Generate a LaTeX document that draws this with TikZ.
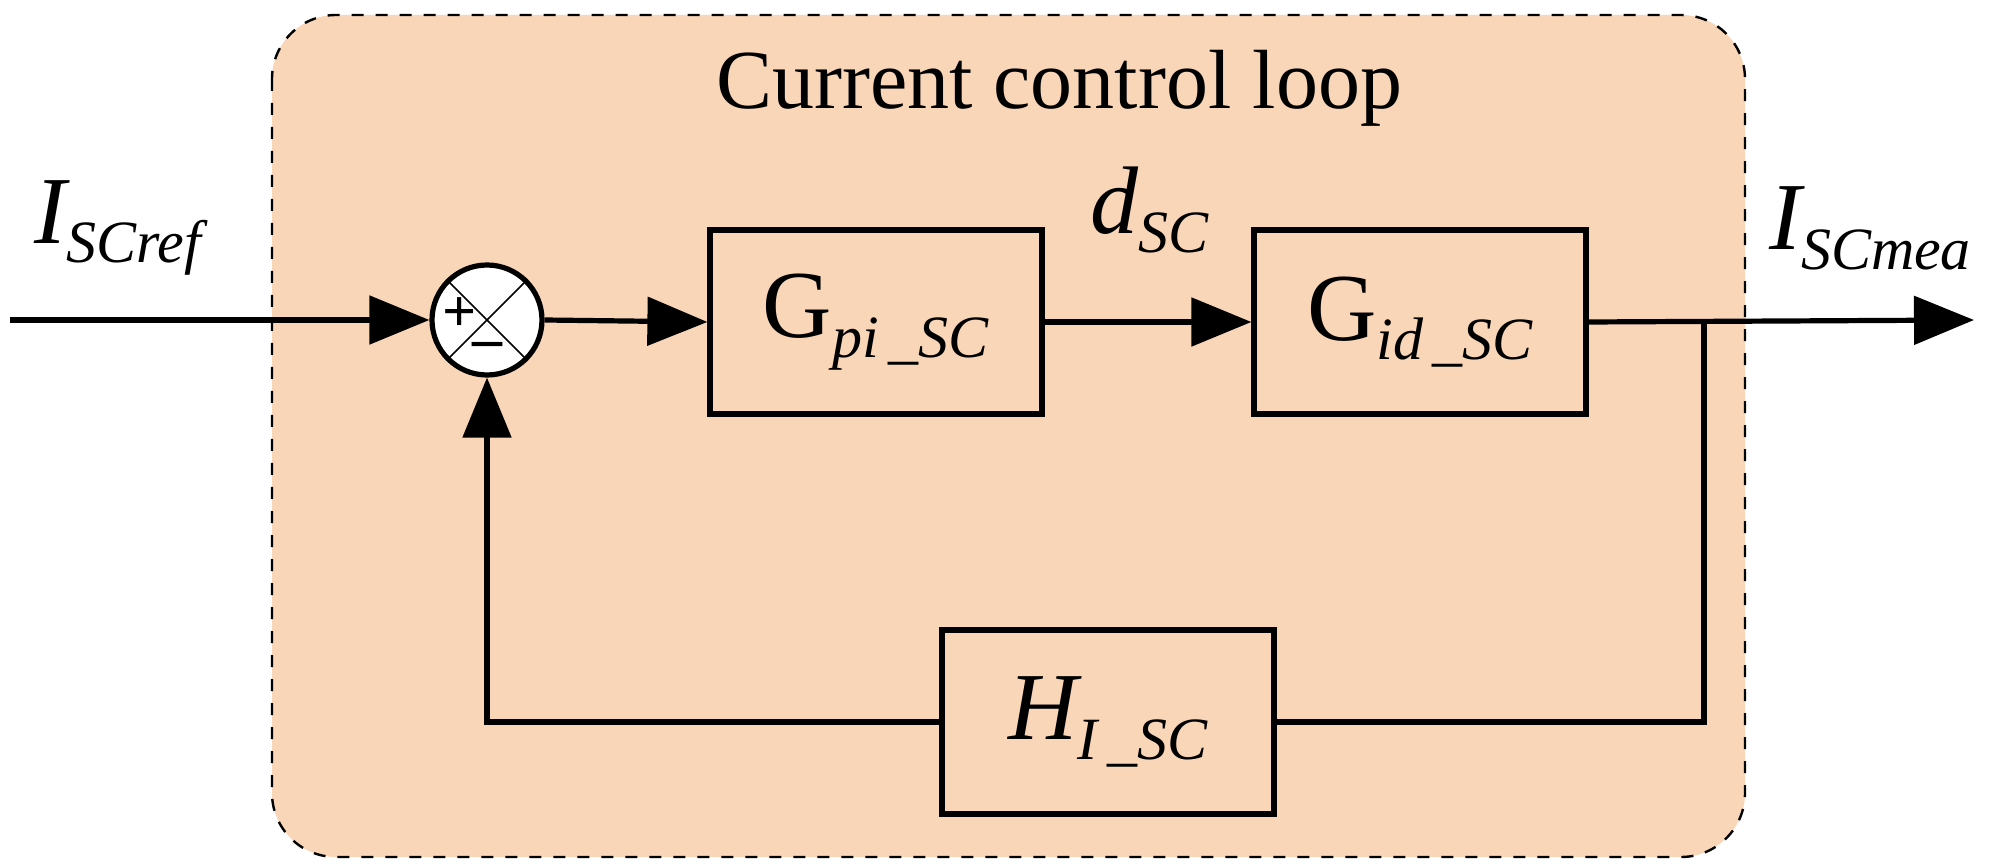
\documentclass[tikz,border=0pt]{standalone}
\usepackage{fontspec}
\setmainfont{Liberation Serif}
\usetikzlibrary{arrows.meta}
\definecolor{peach}{HTML}{FAD6B8}
\newcommand{\sbx}[1]{\raisebox{-0.45ex}{\fontsize{15}{15}\selectfont\itshape #1}}
\begin{document}
\begin{tikzpicture}[x=0.25pt,y=-0.25pt,
  blk/.style={draw,line width=1.3pt,minimum width=83pt,minimum height=46pt,inner sep=0pt},
  ln/.style={line width=1.3pt},
  arr/.style={ln,-{Triangle[length=15pt,width=12pt]}},
  lbl/.style={font=\fontsize{24}{26}\selectfont\itshape}]
\useasboundingbox (0,0) rectangle (1994,866);
\draw[dashed,line width=0.6pt,fill=peach,rounded corners=16pt] (272,15) rectangle (1745,857);
\node[font=\fontsize{21}{24}\selectfont] (title) at (1059,88) {Current control loop};
\node[draw,fill=white,circle,line width=1.3pt,minimum size=27.5pt,inner sep=0pt] (sum) at (487,320) {};
\draw[line width=0.4pt] (sum.45) -- (sum.225) (sum.135) -- (sum.315);
\node[font=\bfseries\fontsize{15}{15}\selectfont] at (460,315) {+};
\node[font=\bfseries\fontsize{15}{15}\selectfont] at (487,350) {--};
\node[blk] (gpi) at (876,322) {\fontsize{24}{26}\selectfont G\sbx{pi\,\_SC}};
\node[blk] (gid) at (1420,322) {\fontsize{24}{26}\selectfont G\sbx{id\,\_SC}};
\node[blk] (h) at (1108,722) {\fontsize{24}{26}\selectfont\itshape H\sbx{I\,\_SC}};
\coordinate (in) at (10,320);
\coordinate (out) at (1974,320);
\coordinate (br) at (1704,320);
\draw[arr] (in) -- (sum.west);
\draw[arr] (sum.east) -- (gpi.west);
\draw[arr] (gpi.east) -- (gid.west);
\draw[arr] (gid.east) -- (out);
\draw[ln] (br) |- (h.east);
\draw[arr] (h.west) -| (sum.south);
\node[lbl] (iref) at (118,228) {I\sbx{SCref}};
\node[lbl] (dsc) at (1150,210) {d\sbx{SC}};
\node[lbl] (imea) at (1870,228) {I\sbx{SCmea}};
\end{tikzpicture}
\end{document}
